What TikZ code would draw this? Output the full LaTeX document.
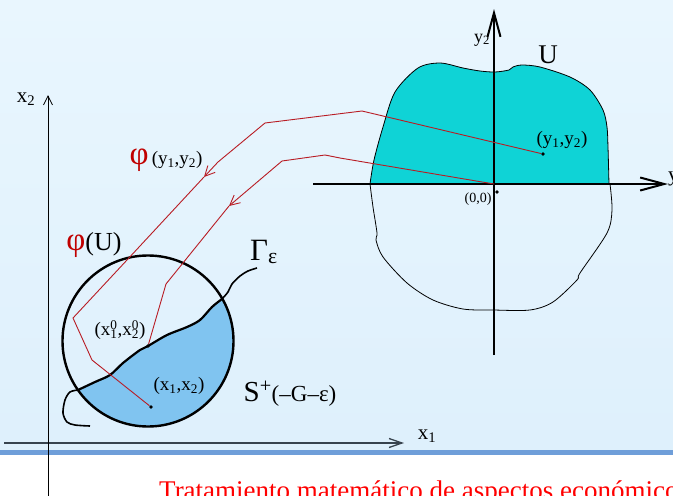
\documentclass[tikz,border=0pt]{standalone}
\usepackage{fontspec}
\setmainfont{Liberation Serif}
\usetikzlibrary{arrows.meta}
\definecolor{slidebg}{HTML}{DEF0FC}
\definecolor{slidebgtop}{HTML}{E9F6FE}
\definecolor{bandblue}{HTML}{6F9ED9}
\definecolor{regioncyan}{HTML}{0FD3D6}
\definecolor{regionblue}{HTML}{80C4F0}
\definecolor{mapred}{HTML}{B81C24}
\definecolor{phired}{HTML}{C00000}
\definecolor{axisgray}{HTML}{37434E}
\newcommand{\fsz}[1]{\fontsize{#1}{#1}\selectfont}

\begin{document}
\begin{tikzpicture}[x=1pt,y=-1pt,
  lbl/.style={inner sep=0pt,font=\fsz{19}},
  dotnode/.style={circle,fill=black,inner sep=0pt,minimum size=3.8pt},
  mapline/.style={mapred,line width=0.9pt},
  maptip/.style={-{Straight Barb[length=10pt,width=10pt]}},
  thinaxis/.style={line width=0.8pt,-{Straight Barb[length=9pt,width=9pt]}},
  bigaxis/.style={line width=2pt,-{Straight Barb[length=24pt,width=13pt]}}]
  \useasboundingbox (0,0) rectangle (673,496);
  \clip (0,0) rectangle (673,496);
  % slide background and footer band
  \shade[top color=slidebgtop,bottom color=slidebg] (0,0) rectangle (673,449.5);
  \fill[bandblue] (0,449.5) rectangle (673,455);
  \fill[white] (0,455) rectangle (673,496);
  \node[anchor=base west,inner sep=0pt,text=red,font=\fsz{27}] (footer) at (159,499) {Tratamiento matemático de aspectos económicos};

  % left axes x1, x2
  \draw[axisgray,line width=1.3pt,-{Straight Barb[length=13pt,width=9pt]}] (4,443) -- (404,443);
  \draw[thinaxis] (48,496) -- (48,95);
  \node[lbl,font=\fsz{21}] (xtwo) at (26,99) {x\textsubscript{2}};
  \node[lbl,font=\fsz{21}] (xone) at (427,436) {x\textsubscript{1}};

  % region U in the y-plane
  \fill[regioncyan] plot[smooth] coordinates {(370,184) (374,160) (383,127) (395,92) (418,68) (440,63) (463,68) (480,71) (495,72) (509,70) (513,67) (522,65) (540,67) (570,77) (590,90) (603,110) (607,127) (608,147) (609,184)} -- cycle;
  \draw[line width=0.8pt] plot[smooth] coordinates {(370,184) (374,160) (383,127) (395,92) (418,68) (440,63) (463,68) (480,71) (495,72) (509,70) (513,67) (522,65) (540,67) (570,77) (590,90) (603,110) (607,127) (608,147) (609,184)};
  \draw[line width=0.8pt] plot[smooth] coordinates {(370,184) (373,207) (377,233) (376,240) (383,257) (407,283) (433,300) (463,309) (493,310) (530,310) (553,302) (577,280) (580,273) (607,233) (612,210) (610,184)};
  \draw[bigaxis] (313,184) -- (668,184);
  \draw[bigaxis] (494,355) -- (494,9);
  \node[lbl,font=\fsz{18}] (ytwo) at (482,40) {y\textsubscript{2}};
  \node[lbl,font=\fsz{21},anchor=west] (yone) at (668,179) {y\textsubscript{1}};
  \node[lbl,font=\fsz{27}] (ulabel) at (548,55) {U};

  % set S+ inside the ball, bounded by Gamma
  \fill[regionblue] plot[smooth] coordinates {(78,390) (95,382) (110,375) (123,363) (140,350) (148,346) (167,335) (187,327) (200,320) (212,307) (222,299)}
    arc[start angle=-29.6,end angle=145,radius=85.5] -- cycle;
  \draw[line width=2.4pt] (148,341) circle[radius=85.5];
  \draw[line width=1.6pt] plot[smooth] coordinates {(90,426) (75,425) (67,422) (63,413) (65,400) (70,392) (78,390)};
  \draw[line width=2.2pt] plot[smooth] coordinates {(78,390) (95,382) (110,375) (123,363) (140,350) (148,346) (167,335) (187,327) (200,320) (212,307) (222,299)};
  \draw[line width=1.6pt] plot[smooth] coordinates {(222,299) (228,292) (232,284) (240,276) (248,271) (257,268)};

  % points
  \node[dotnode] (yy) at (543,154) {};
  \node[dotnode] (origin) at (497,192) {};
  \coordinate (yzero) at (494,184);
  \node[dotnode] (xzero) at (148,346) {};
  \node[dotnode] (xx) at (151,407) {};

  % the map phi
  \draw[mapline,maptip] (yy) -- (362,111) -- (265,123) -- (218,162) -- (204,177);
  \draw[mapline] (204,177) -- (127,260) -- (73,318) -- (92,360) -- (xx);
  \draw[mapline,maptip] (yzero) -- (340,158) -- (325,155) -- (282,161) -- (229,206);
  \draw[mapline] (229,206) -- (166,284) -- (xzero);

  % labels
  \node[lbl] (yylabel) at (562,140) {(y\textsubscript{1},y\textsubscript{2})};
  \node[lbl,font=\fsz{14}] (originlabel) at (478,199) {(0,0)};
  \node[lbl,font=\fsz{26}] (phiU) at (94,245) {{\color{phired}\fsz{33}φ}(U)};
  \node[lbl,font=\fsz{19}] (phiyy) at (166,160) {{\color{phired}\fsz{33}φ}\,(y\textsubscript{1},y\textsubscript{2})};
  \node[lbl,font=\fsz{31}] (gammalabel) at (264,252) {Γ\textsubscript{ε}};
  \node[lbl,font=\fsz{29}] (splus) at (290,394) {S\textsuperscript{+}{\fsz{23}(–G–ε)}};
  \node[lbl] (xzerolabel) at (120,330) {(x\rlap{\textsuperscript{0}}\textsubscript{1},x\rlap{\textsuperscript{0}}\textsubscript{2})};
  \node[lbl] (xxlabel) at (179,386) {(x\textsubscript{1},x\textsubscript{2})};
\end{tikzpicture}
\end{document}
